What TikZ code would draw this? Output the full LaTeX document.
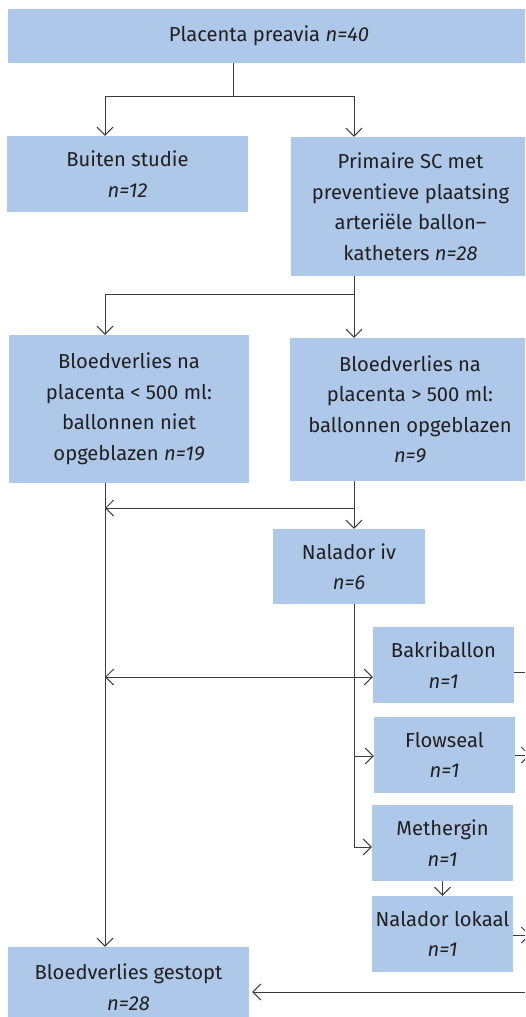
\documentclass[tikz,border=0pt]{standalone}
\usepackage{fontspec}
\setmainfont{Fira Sans}
\usetikzlibrary{arrows.meta}
\definecolor{boxblue}{RGB}{173,200,232}
\definecolor{linegray}{RGB}{60,60,60}
\definecolor{txt}{RGB}{35,31,32}
\begin{document}
\begin{tikzpicture}[x=1pt,y=-1pt,
  box/.style={fill=boxblue, draw=none, inner sep=0pt, align=center, text=txt,
    font=\fontsize{20.2}{30.5}\selectfont},
  sbox/.style={box, minimum width=141pt, minimum height=76pt},
  conn/.style={draw=linegray, line width=1pt},
  arr/.style={conn, -{Straight Barb[length=8pt,width=16pt]}},
  darr/.style={conn, {Straight Barb[length=8pt,width=16pt]}-{Straight Barb[length=8pt,width=16pt]}},
  ]
\useasboundingbox (0,0) rectangle (525,1017);
\clip (0,0) rectangle (525,1017);

\node[box, minimum width=522pt, minimum height=54pt] (top) at (269,36) {Placenta preavia \textit{n=40}};
\node[box, minimum width=241pt, minimum height=76pt] (buiten) at (127.5,174) {Buiten studie\\\textit{n=12}};
\node[box, minimum width=239pt, minimum height=139pt] (prim) at (410.5,206.5) {Primaire SC met\\preventieve plaatsing\\arteriële ballon–\\katheters \textit{n=28}};
\node[box, minimum width=240pt, minimum height=148pt] (bl) at (129,409) {Bloedverlies na\\placenta < 500 ml:\\ballonnen niet\\opgeblazen \textit{n=19}};
\node[box, minimum width=240pt, minimum height=143pt] (br) at (410,409.5) {Bloedverlies na\\placenta > 500 ml:\\ballonnen opgeblazen\\\textit{n=9}};
\node[box, minimum width=152pt, minimum height=75pt] (niv) at (349,566.5) {Nalador iv\\\textit{n=6}};
\node[sbox] (bakri) at (443.5,665) {Bakriballon\\\textit{n=1}};
\node[sbox] (flow) at (444.5,755) {Flowseal\\\textit{n=1}};
\node[sbox] (meth) at (442.5,843) {Methergin\\\textit{n=1}};
\node[sbox] (nlok) at (442.5,934) {Nalador lokaal\\\textit{n=1}};
\node[box, minimum width=241pt, minimum height=80pt] (gest) at (128.5,987) {Bloedverlies gestopt\\\textit{n=28}};

\coordinate (s1) at (233,96);
\coordinate (xl) at (105,0);
\coordinate (xr) at (354,0);
\coordinate (s2) at (354,294);
\coordinate (s3) at (354,508);
\coordinate (ybk) at (0,677);
\coordinate (yflow) at (0,756);
\coordinate (ymeth) at (0,847);
\coordinate (out1) at (536,672);
\coordinate (out2) at (530,755);
\coordinate (out3) at (530,935);
\coordinate (in1) at (545,992);

\draw[conn] (top.south -| s1) -- (s1);
\draw[arr] (s1) -| (xl |- buiten.north);
\draw[arr] (s1) -| (xr |- prim.north);
\draw[conn] (prim.south -| s2) -- (s2);
\draw[arr] (s2) -| (xl |- bl.north);
\draw[arr] (s2) -- (xr |- br.north);
\draw[arr] (br.south -| xr) -- (niv.north -| xr);
\draw[arr] (s3) -- (s3 -| xl);
\draw[arr] (bl.south -| xl) -- (gest.north -| xl);
\draw[arr] (niv.south -| xr) |- (meth.west |- ymeth);
\draw[arr] (xr |- yflow) -- (flow.west |- yflow);
\draw[darr] (xl |- ybk) -- (bakri.west |- ybk);
\draw[arr] (meth.south) -- (nlok.north);
\draw[arr] (bakri.east |- out1) -- (out1);
\draw[arr] (flow.east |- out2) -- (out2);
\draw[arr] (nlok.east |- out3) -- (out3);
\draw[arr, shorten >=3pt] (in1) -- (in1 -| gest.east);
\end{tikzpicture}
\end{document}
